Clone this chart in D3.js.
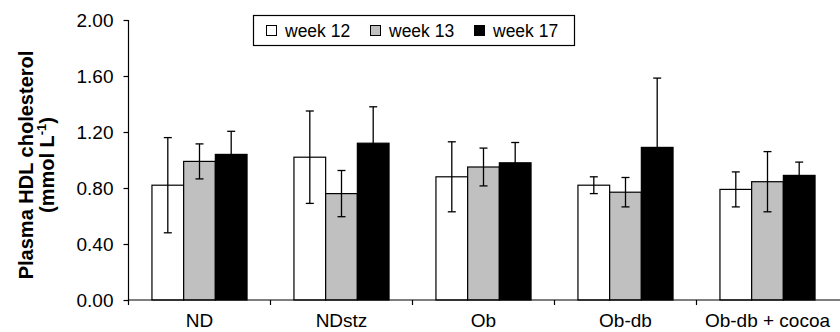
<!DOCTYPE html>
<html>
<head>
<meta charset="utf-8">
<script src="https://cdn.jsdelivr.net/npm/d3@7"></script>
<style>
  body { margin: 0; background: #fff; }
  svg { display: block; font-family: "Liberation Sans", Arial, sans-serif; }
</style>
</head>
<body>
<svg id="chart" width="840" height="332"></svg>
<script>
const categories = ["ND", "NDstz", "Ob", "Ob-db", "Ob-db + cocoa"];
const seriesNames = ["week 12", "week 13", "week 17"];
const week12 = [0.82, 1.02, 0.88, 0.82, 0.79];
const week13 = [0.99, 0.76, 0.95, 0.77, 0.845];
const week17 = [1.04, 1.12, 0.98, 1.09, 0.89];
const err12 = [0.34, 0.33, 0.25, 0.06, 0.125];
const err13 = [0.125, 0.165, 0.135, 0.105, 0.215];
const err17 = [0.165, 0.26, 0.145, 0.495, 0.095];
const yTicks = [0, 0.4, 0.8, 1.2, 1.6, 2.0];
const seriesColors = ["#ffffff", "#c0c0c0", "#000000"];

const values = [week12, week13, week17];
const errors = [err12, err13, err17];

const svg = d3.select("#chart");
const plotLeft = 128.5, plotRight = 838.5, plotTop = 20, plotBottom = 300;

const y = d3.scaleLinear().domain([0, 2]).range([plotBottom, plotTop]);
const x0 = d3.scaleBand().domain(categories).range([plotLeft, plotRight]).padding(0);
const x1 = d3.scaleBand().domain(seriesNames).range([0, x0.bandwidth()])
  .paddingInner(0).paddingOuter(0.74);

// bars
const groups = svg.append("g").selectAll("g").data(categories).join("g")
  .attr("transform", d => `translate(${x0(d)},0)`);

groups.each(function(cat, ci) {
  const g = d3.select(this);
  seriesNames.forEach((s, si) => {
    const v = values[si][ci];
    const e = errors[si][ci];
    const bx = x1(s);
    const bw = x1.bandwidth();
    g.append("rect")
      .attr("x", bx).attr("y", y(v))
      .attr("width", bw).attr("height", y(0) - y(v))
      .attr("fill", seriesColors[si])
      .attr("stroke", "#000").attr("stroke-width", 1.2);
    const cx = bx + bw / 2;
    g.append("line")
      .attr("x1", cx).attr("x2", cx)
      .attr("y1", y(v + e)).attr("y2", y(v - e))
      .attr("stroke", "#000").attr("stroke-width", 1.3);
    [v + e, v - e].forEach(t => {
      g.append("line")
        .attr("x1", cx - 4).attr("x2", cx + 4)
        .attr("y1", y(t)).attr("y2", y(t))
        .attr("stroke", "#000").attr("stroke-width", 1.3);
    });
  });
});

// y axis
const yAxis = d3.axisLeft(y).tickValues(yTicks).tickFormat(d3.format(".2f"))
  .tickSize(5).tickPadding(10).tickSizeOuter(0);
const yg = svg.append("g").attr("transform", `translate(${plotLeft},0)`).call(yAxis);
yg.select(".domain").attr("d", `M0,${plotTop}V${plotBottom + 5}`).attr("stroke", "#000").attr("stroke-width", 1.2);
yg.selectAll(".tick line").attr("stroke", "#000").attr("stroke-width", 1.2);
yg.selectAll(".tick text").attr("font-size", 19).attr("fill", "#000")
  .attr("font-family", "Liberation Sans, Arial, sans-serif");

// x axis
const xg = svg.append("g");
xg.append("line").attr("x1", plotLeft).attr("x2", 840).attr("y1", plotBottom).attr("y2", plotBottom)
  .attr("stroke", "#000").attr("stroke-width", 1.2);
categories.forEach((c, i) => {
  if (i > 0) {
    xg.append("line").attr("x1", x0(c)).attr("x2", x0(c))
      .attr("y1", plotBottom).attr("y2", plotBottom + 5)
      .attr("stroke", "#000").attr("stroke-width", 1.2);
  }
  xg.append("text")
    .attr("x", x0(c) + x0.bandwidth() / 2)
    .attr("y", 327)
    .attr("text-anchor", "middle")
    .attr("font-size", 19)
    .attr("fill", "#000")
    .text(c);
});

// y title
const title = svg.append("text")
  .attr("transform", "translate(33,165) rotate(-90)")
  .attr("text-anchor", "middle")
  .attr("font-weight", "bold")
  .attr("font-size", 20)
  .attr("fill", "#000");
title.append("tspan").attr("x", 0).attr("y", 0).text("Plasma HDL cholesterol");
const l2 = title.append("tspan").attr("x", 0).attr("y", 21);
l2.append("tspan").text("(mmol L");
l2.append("tspan").attr("font-size", 13).attr("dy", -8).text("-1");
l2.append("tspan").attr("dy", 8).text(")");

// legend
const lg = svg.append("g");
lg.append("rect").attr("x", 253.5).attr("y", 15.5).attr("width", 321).attr("height", 30)
  .attr("fill", "#fff").attr("stroke", "#000").attr("stroke-width", 1.2);
const legendX = [266, 370, 474];
seriesNames.forEach((s, i) => {
  lg.append("rect").attr("x", legendX[i] + 0.5).attr("y", 25.5).attr("width", 10).attr("height", 10)
    .attr("fill", seriesColors[i]).attr("stroke", "#000").attr("stroke-width", 1);
  lg.append("text").attr("x", legendX[i] + 19).attr("y", 37)
    .attr("font-size", 17.5).attr("fill", "#000").text(s);
});
</script>
</body>
</html>
